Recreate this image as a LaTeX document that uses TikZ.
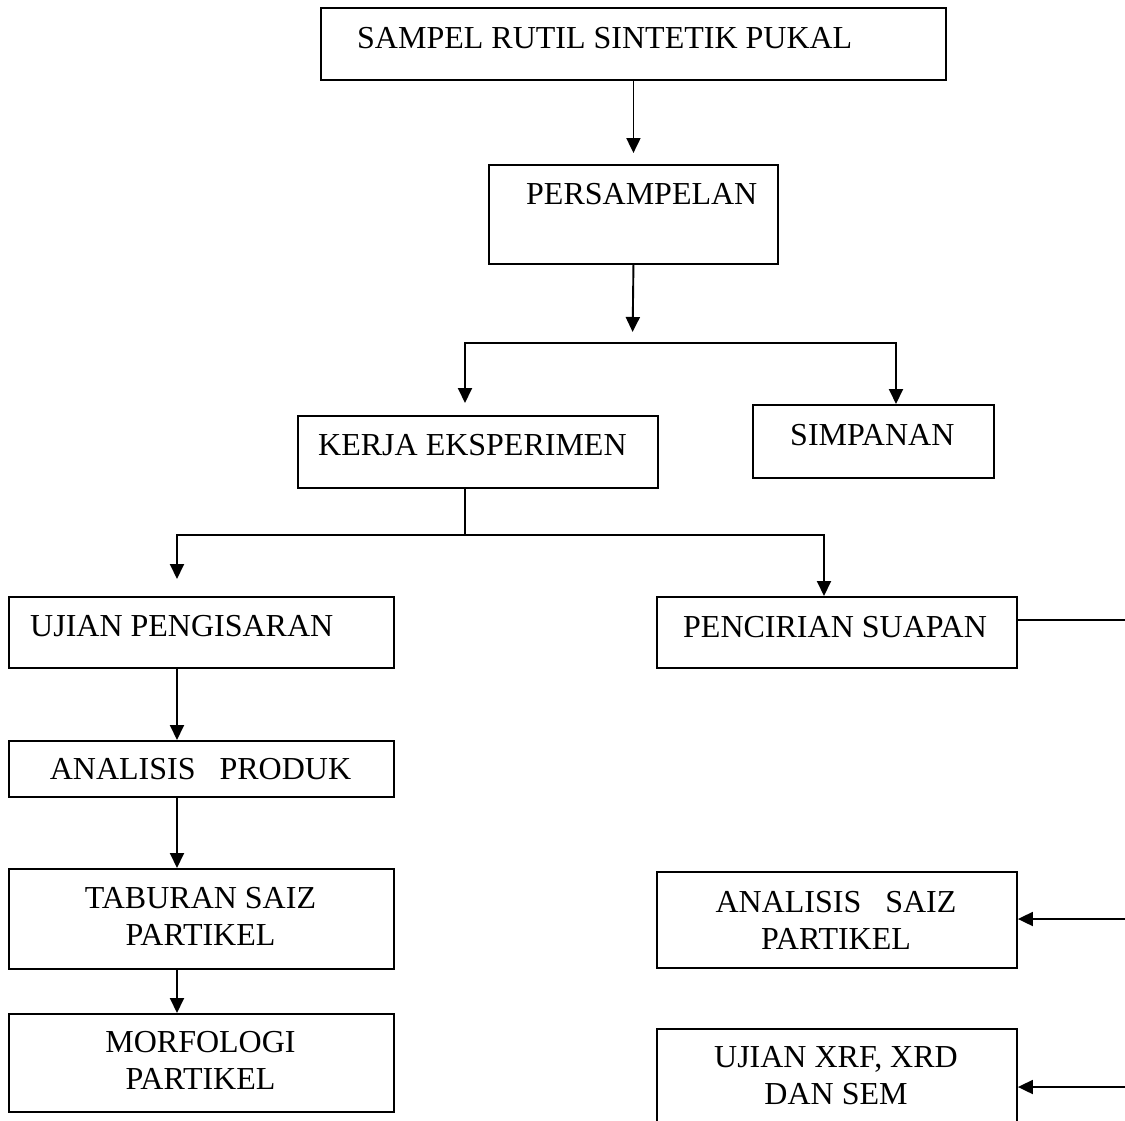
\documentclass[tikz,border=0pt]{standalone}
\usepackage{fontspec}
\setmainfont{Liberation Serif}
\usetikzlibrary{arrows.meta}
\begin{document}
\begin{tikzpicture}[x=1pt,y=-1pt,
  box/.style={draw, line width=1.9pt, rectangle, anchor=north west, inner sep=0pt},
  lbl/.style={inner sep=0pt, font=\fontsize{32}{37}\selectfont},
  conn/.style={line width=1.9pt},
  arr/.style={conn, -{Triangle[length=15pt,width=14pt]}}]
\useasboundingbox (0,0) rectangle (1125,1120);

% boxes
\node[box, minimum width=625pt, minimum height=72pt] (sampel) at (320,7) {};
\node[box, minimum width=289pt, minimum height=99pt] (persampelan) at (488,164) {};
\node[box, minimum width=360pt, minimum height=72pt] (kerja) at (297,415) {};
\node[box, minimum width=241pt, minimum height=73pt] (simpanan) at (752,404) {};
\node[box, minimum width=385pt, minimum height=71pt] (ujian) at (8,596) {};
\node[box, minimum width=360pt, minimum height=71pt] (pencirian) at (656,596) {};
\node[box, minimum width=385pt, minimum height=56pt] (produk) at (8,740) {};
\node[box, minimum width=385pt, minimum height=100pt] (taburan) at (8,868) {};
\node[box, minimum width=385pt, minimum height=98pt] (morfologi) at (8,1013) {};
\node[box, minimum width=360pt, minimum height=96pt] (saiz) at (656,871) {};
\node[box, minimum width=360pt, minimum height=130pt] (xrf) at (656,1028) {};

% texts
\node[lbl, anchor=base west] (tsampel) at (357,48) {SAMPEL RUTIL SINTETIK PUKAL};
\node[lbl, anchor=base west] (tpers) at (526,204) {PERSAMPELAN};
\node[lbl, anchor=base west] (tkerja) at (318,455) {KERJA EKSPERIMEN};
\node[lbl, anchor=base west] (tsimp) at (790,445) {SIMPANAN};
\node[lbl, anchor=base west] (tujian) at (30,636) {UJIAN PENGISARAN};
\node[lbl, anchor=base west] (tpenc) at (683,637) {PENCIRIAN SUAPAN};
\node[lbl, anchor=base] (tprod) at (200.5,779) {ANALISIS\ \ \ PRODUK};
\node[lbl, anchor=base] (ttab) at (200.5,908) {\begin{tabular}[t]{@{}c@{}}TABURAN SAIZ\\PARTIKEL\end{tabular}};
\node[lbl, anchor=base] (tmorf) at (200.5,1052) {\begin{tabular}[t]{@{}c@{}}MORFOLOGI\\PARTIKEL\end{tabular}};
\node[lbl, anchor=base] (tsaiz) at (836,912) {\begin{tabular}[t]{@{}c@{}}ANALISIS\ \ \ SAIZ\\PARTIKEL\end{tabular}};
\node[lbl, anchor=base] (txrf) at (836,1067) {\begin{tabular}[t]{@{}c@{}}UJIAN XRF, XRD\\DAN SEM\end{tabular}};

% coordinates
\coordinate (s1) at (632.5,343);
\coordinate (s1l) at (465,343);
\coordinate (s1r) at (896,343);
\coordinate (s2) at (465,535);
\coordinate (s2l) at (177,535);
\coordinate (s2r) at (824,535);
\coordinate (e1) at (1125,620);
\coordinate (e2) at (1125,919);
\coordinate (e3) at (1125,1087);

% connectors
\draw[arr, shorten >=11pt] (sampel.south) -- (persampelan.north);
\draw[arr, shorten >=11pt] (persampelan.south) -- (s1);
\draw[arr, shorten >=12pt] (s1r) -- (s1l) -- (s1l |- kerja.north);
\draw[arr] (s1l) -- (s1r) -- (s1r |- simpanan.north);
\draw[arr, shorten >=17pt] (kerja.south -| s2) -- (s2) -- (s2l) -- (s2l |- ujian.north);
\draw[arr] (s2) -- (s2r) -- (s2r |- pencirian.north);
\draw[arr] (ujian.south -| s2l) -- (produk.north -| s2l);
\draw[arr] (produk.south -| s2l) -- (taburan.north -| s2l);
\draw[arr] (taburan.south -| s2l) -- (morfologi.north -| s2l);
\draw[conn] (pencirian.east |- e1) -- (e1);
\draw[arr] (e2) -- (saiz.east |- e2);
\draw[arr] (e3) -- (xrf.east |- e3);
\end{tikzpicture}
\end{document}
